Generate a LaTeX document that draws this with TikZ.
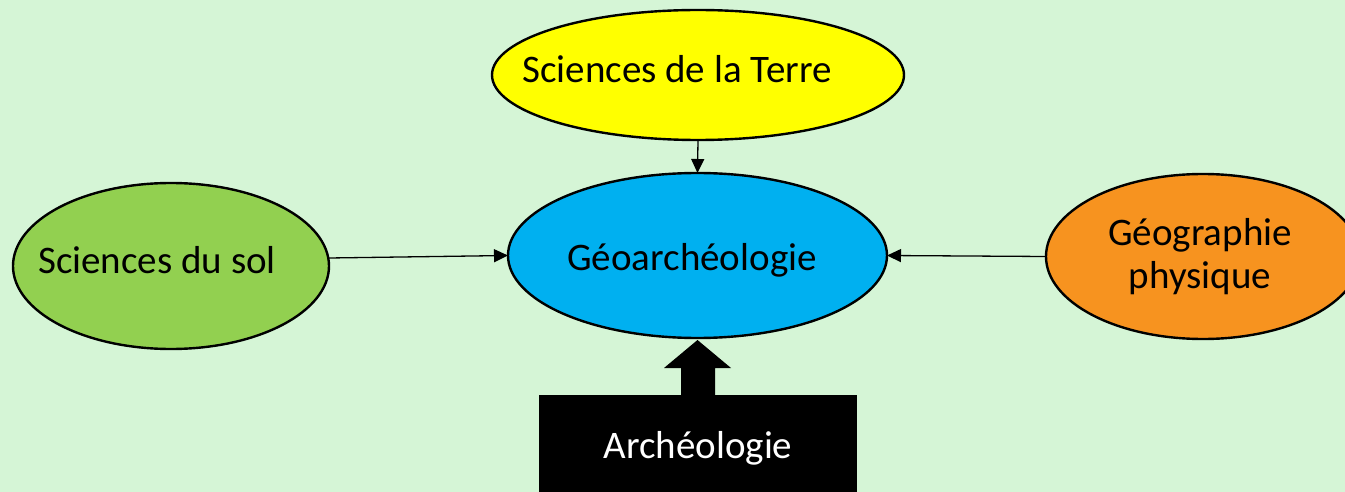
\documentclass[tikz,border=0pt]{standalone}
\usepackage{fontspec}
\setmainfont{Carlito}
\usetikzlibrary{shapes.geometric,arrows.meta,calc}
\definecolor{bg}{HTML}{D5F5D6}
\definecolor{yel}{HTML}{FFFF00}
\definecolor{blu}{HTML}{00B0F0}
\definecolor{grn}{HTML}{92D050}
\definecolor{org}{HTML}{F7931F}
\newcommand{\placetxt}[3]{\smash{\makebox[0pt][c]{\hspace*{#1}\raisebox{#2}{#3}}}}
\tikzset{
  oval/.style={ellipse, draw=black, line width=2.4pt, inner sep=0pt, outer sep=0pt, font=\fontsize{39}{43.5}\selectfont, text=black},
  link/.style={draw=black, line width=1.3pt, -{Triangle[length=14pt,width=13pt]}},
}
\begin{document}
\begin{tikzpicture}[x=1pt,y=-1pt]
\useasboundingbox (0,0) rectangle (1345,492);
\clip (0,0) rectangle (1345,492);
\fill[bg] (0,0) rectangle (1345,492);
\node[oval, fill=yel, minimum width=412pt, minimum height=130pt] (terre) at (698,75) {\placetxt{-42pt}{-8pt}{Sciences de la Terre}};
\node[oval, fill=blu, minimum width=379pt, minimum height=165pt] (geo) at (697.5,255.5) {\placetxt{-11pt}{-14.5pt}{Géoarchéologie}};
\node[oval, fill=grn, minimum width=316pt, minimum height=166pt] (sol) at (171,266) {\placetxt{-28pt}{-7pt}{Sciences du sol}};
\node[oval, fill=org, minimum width=314pt, minimum height=165pt] (phys) at (1203,256.5) {\placetxt{-6pt}{11.5pt}{\begin{tabular}[t]{@{}c@{}}Géographie\\physique\end{tabular}}};
\node[rectangle, fill=black, text=white, minimum width=318pt, minimum height=105pt, inner sep=0pt, outer sep=0pt, font=\fontsize{39}{43.5}\selectfont] (arch) at (698,447.5) {\placetxt{0pt}{-10.5pt}{Archéologie}};
\draw[link] (terre.south) -- (geo.north);
\draw[link] ([yshift=8pt]sol.east) -- (geo.west);
\draw[link] (phys.west) -- (geo.east);
\fill[black] ($(arch.north)+(-17,0)$) -- ++(0,-27) -- ++(-17,0) -- ($(geo.south)+(0,2)$) -- ($(arch.north)+(33,-27)$) -- ++(-16,0) -- ($(arch.north)+(17,0)$) -- cycle;
\end{tikzpicture}
\end{document}
